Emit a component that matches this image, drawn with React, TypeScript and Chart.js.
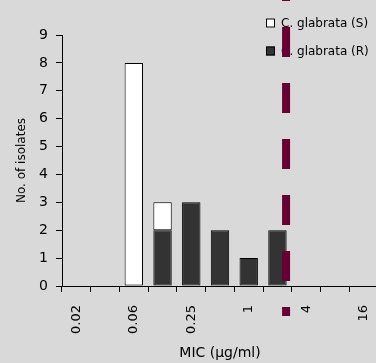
import React, { useEffect, useRef } from "react";
import { Chart, registerables } from "chart.js";

Chart.register(...registerables);

const categories = ["0.02", "", "0.06", "", "0.25", "", "1", "", "4", "", "16"];
const resistant = [0, 0, 0, 2, 3, 2, 1, 2, 0, 0, 0];
const susceptible = [0, 0, 8, 1, 0, 0, 0, 0, 0, 0, 0];
const yTicks = [0, 1, 2, 3, 4, 5, 6, 7, 8, 9];
const breakpointIndex = 7.3;
const legendLabels = ["C. glabrata (S)", "C. glabrata (R)"];

const FONT = "'DejaVu Sans', sans-serif";
const BG = "#d9d9d9";
const MAROON = "#660033";
const DARK = "#333333";

const overlayPlugin = {
  id: "overlay",
  afterDraw(chart: any) {
    const ctx = chart.ctx;
    const area = chart.chartArea;
    // legend
    ctx.save();
    const lx = area.right - 112;
    const colors = ["#ffffff", DARK];
    legendLabels.forEach((label, i) => {
      const cy = 23 + i * 28;
      ctx.fillStyle = colors[i];
      ctx.fillRect(lx, cy - 4.5, 9, 9);
      ctx.strokeStyle = "#000";
      ctx.lineWidth = 1;
      ctx.strokeRect(lx + 0.5, cy - 4.5 + 0.5, 8, 8);
      ctx.fillStyle = "#000";
      ctx.font = `12px ${FONT}`;
      ctx.textBaseline = "middle";
      ctx.textAlign = "left";
      ctx.fillText(label, lx + 15, cy + 1);
    });
    ctx.restore();
    // breakpoint dashed line
    const x = chart.scales.x.getPixelForValue(breakpointIndex);
    ctx.save();
    ctx.strokeStyle = MAROON;
    ctx.lineWidth = 8;
    ctx.lineCap = "butt";
    ctx.setLineDash([30, 26]);
    ctx.lineDashOffset = 29;
    ctx.beginPath();
    ctx.moveTo(x, 0);
    ctx.lineTo(x, area.bottom + 30);
    ctx.stroke();
    ctx.restore();
  },
};

export default function App() {
  const ref = useRef<HTMLCanvasElement>(null);
  useEffect(() => {
    const chart = new Chart(ref.current as HTMLCanvasElement, {
      type: "bar",
      data: {
        labels: categories,
        datasets: [
          {
            label: legendLabels[1],
            data: resistant,
            backgroundColor: DARK,
            borderColor: "#000",
            borderWidth: 1,
            borderSkipped: false,
          },
          {
            label: legendLabels[0],
            data: susceptible,
            backgroundColor: "#ffffff",
            borderColor: "#000",
            borderWidth: 1,
            borderSkipped: false,
          },
        ],
      },
      options: {
        animation: false,
        responsive: false,
        layout: { padding: { top: 35, right: 2, left: 0, bottom: 0 } },
        datasets: { bar: { categoryPercentage: 1, barPercentage: 0.64 } },
        plugins: { legend: { display: false }, tooltip: { enabled: false } },
        scales: {
          x: {
            stacked: true,
            afterFit: (s: any) => {
              s.height = 77;
              s.paddingLeft = 0;
              s.paddingRight = 0;
            },
            grid: {
              offset: true,
              drawOnChartArea: false,
              drawTicks: true,
              tickLength: 6,
              color: "#000",
            },
            border: { color: "#000", width: 1 },
            ticks: {
              autoSkip: false,
              maxRotation: 90,
              minRotation: 90,
              padding: 13,
              color: "#000",
              font: { family: FONT, size: 13 },
            },
            title: {
              display: true,
              text: "MIC (µg/ml)",
              color: "#000",
              font: { family: FONT, size: 14 },
              padding: { top: 0, bottom: 1 },
            },
          },
          y: {
            stacked: true,
            min: 0,
            max: 9,
            afterFit: (s: any) => {
              s.width = 62;
              s.paddingTop = 0;
              s.paddingBottom = 0;
            },
            afterBuildTicks: (s: any) => {
              s.ticks = yTicks.map((v) => ({ value: v }));
            },
            grid: {
              drawOnChartArea: false,
              drawTicks: true,
              tickLength: 6,
              color: "#000",
            },
            border: { color: "#000", width: 1 },
            ticks: {
              padding: 8,
              color: "#000",
              font: { family: FONT, size: 14 },
            },
            title: {
              display: true,
              text: "No. of isolates",
              color: "#000",
              font: { family: FONT, size: 12 },
              padding: { top: 15, bottom: 0 },
            },
          },
        },
      },
      plugins: [overlayPlugin],
    } as any);
    return () => chart.destroy();
  }, []);
  return (
    <div
      style={{
        position: "fixed",
        left: 0,
        top: 0,
        width: 376,
        height: 363,
        overflow: "hidden",
        background: BG,
      }}
    >
      <canvas ref={ref} width={380} height={363} style={{ width: 380, height: 363, display: "block" }} />
    </div>
  );
}
